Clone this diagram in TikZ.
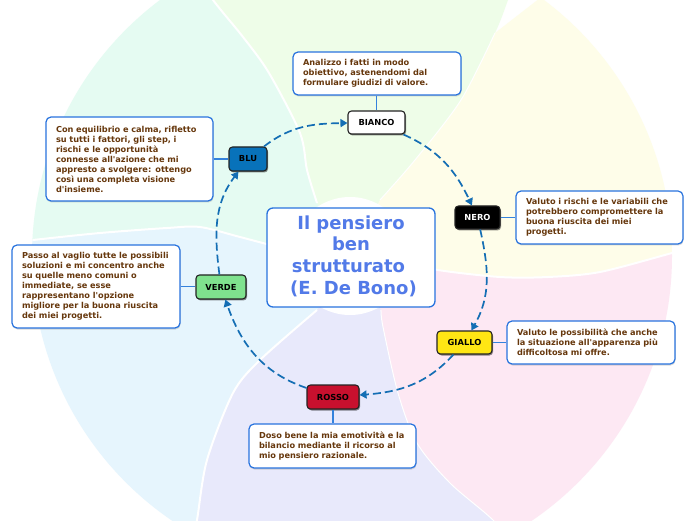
\documentclass[tikz,border=0pt]{standalone}
\usepackage{fontspec}
\newfontfamily\dv{DejaVu Sans}
\usetikzlibrary{arrows.meta,shadows}
\definecolor{mintP}{RGB}{229,251,242}
\definecolor{greenP}{RGB}{238,253,232}
\definecolor{yellowP}{RGB}{254,253,233}
\definecolor{pinkP}{RGB}{253,232,243}
\definecolor{lavP}{RGB}{232,233,251}
\definecolor{lblueP}{RGB}{230,245,253}
\definecolor{descborder}{RGB}{40,115,222}
\definecolor{desctext}{RGB}{102,55,12}
\definecolor{titleblue}{RGB}{82,122,232}
\definecolor{linkblue}{RGB}{52,130,220}
\definecolor{flowblue}{RGB}{20,110,180}
\definecolor{hatborder}{RGB}{35,35,35}
\definecolor{giallo}{RGB}{255,230,20}
\definecolor{rosso}{RGB}{200,16,46}
\definecolor{verde}{RGB}{127,226,142}
\definecolor{blu}{RGB}{8,114,186}
\begin{document}
\begin{tikzpicture}[x=1pt,y=1pt,
  hat/.style={draw=hatborder, line width=1.1pt, rounded corners=3.5pt, minimum height=23pt, inner sep=0pt,
    font=\dv\bfseries\fontsize{8.3}{10}\selectfont,
    drop shadow={shadow xshift=1pt, shadow yshift=-1.5pt, opacity=0.45, fill=black}},
  desc/.style={draw=descborder, line width=1.2pt, fill=white, rounded corners=5pt, inner xsep=10pt, inner ysep=3pt,
    align=left, text=desctext, font=\dv\bfseries\fontsize{8.2}{10}\selectfont,
    drop shadow={shadow xshift=0.5pt, shadow yshift=-1.5pt, opacity=0.3, fill=gray}},
  link/.style={draw=linkblue, line width=1.2pt},
  flow/.style={draw=flowblue, line width=1.7pt, dash pattern=on 8pt off 4pt, -{Triangle[length=7pt,width=8pt]}},
  seam/.style={draw=white, line width=2pt},
  thinseam/.style={draw=white, line width=1pt}
]
\useasboundingbox (0,0) rectangle (696,520);
\fill[white] (0,0) rectangle (696,520);
\coordinate (C) at (352,264);
\coordinate (fG) at (352,714);
\coordinate (fY) at (742,489);
\coordinate (fP) at (742,39);
\coordinate (fL) at (352,-186);
\coordinate (fB) at (-38,39);
\coordinate (fM) at (-38,489);
\begin{scope}
\clip (0,0) rectangle (696,520);
\clip (352,264) circle[radius=320];
% mint (BLU)
\fill[mintP] (C) -- plot[smooth] coordinates {(289,270) (240,283) (200,293) (167,292) (100,287) (33,280) (10,277)}
  -- (fM) -- plot[smooth] coordinates {(185,561) (213,520) (243,483) (269,447) (300,387) (307,350) (317,317)} -- cycle;
% green (BIANCO)
\fill[greenP] (C) -- plot[smooth] coordinates {(317,317) (307,350) (300,387) (269,447) (243,483) (213,520) (185,561)}
  -- (fG) -- plot[smooth] coordinates {(522,560) (508,520) (495,487) (461,420) (415,360) (380,320)} -- cycle;
% yellow (NERO)
\fill[yellowP] (C) -- plot[smooth] coordinates {(380,320) (415,360) (461,420) (495,487)} -- (540,522) -- (570,580)
  -- (fY) -- plot[smooth] coordinates {(700,275) (672,267) (600,248) (548,243) (500,243) (438,250) (412,258)} -- cycle;
% pink (GIALLO)
\fill[pinkP] (C) -- plot[smooth] coordinates {(412,258) (438,250) (500,243) (548,243) (600,248) (672,267) (700,275)}
  -- (fP) -- plot[smooth] coordinates {(525,-36) (493,0) (450,37) (417,77) (398,127) (383,193) (381,210)} -- cycle;
% lavender (ROSSO)
\fill[lavP] (C) -- plot[smooth] coordinates {(381,210) (383,193) (398,127) (417,77) (450,37) (493,0) (525,-36)}
  -- (fL) -- plot[smooth] coordinates {(188,-50) (197,0) (207,60) (233,127) (260,160) (317,210)} -- cycle;
% light blue (VERDE)
\fill[lblueP] (C) -- plot[smooth] coordinates {(317,210) (260,160) (233,127) (207,60) (197,0) (188,-50)}
  -- (fB) -- plot[smooth] coordinates {(10,277) (33,280) (100,287) (167,292) (200,293) (240,283) (289,270)} -- cycle;
% seams
\draw[seam] plot[smooth] coordinates {(317,317) (307,350) (300,387) (269,447) (243,483) (213,520) (185,561)};
\draw[thinseam] plot[smooth] coordinates {(380,320) (415,360) (461,420) (495,487)};
\draw[seam] plot[smooth] coordinates {(412,258) (438,250) (500,243) (548,243) (600,248) (672,267) (700,275)};
\draw[thinseam] plot[smooth] coordinates {(381,210) (383,193) (398,127) (417,77) (450,37) (493,0) (525,-36)};
\draw[seam] plot[smooth] coordinates {(317,210) (260,160) (233,127) (207,60) (197,0) (188,-50)};
\draw[seam] plot[smooth] coordinates {(289,270) (240,283) (200,293) (167,292) (100,287) (33,280) (10,277)};
\end{scope}
\fill[white] (350,264) circle[radius=59];

% central topic
\node[draw=descborder, line width=1.3pt, fill=white, rounded corners=6pt, minimum width=168pt, minimum height=99pt,
  inner sep=0pt, text=titleblue, font=\dv\bfseries\fontsize{18}{21.7}\selectfont] (title) at (351,262.5)
  {\begin{tabular}{@{}c@{}}Il pensiero\\ben\\strutturato\hspace*{5pt}\\\hspace*{5pt}(E. De Bono)\end{tabular}};

% hats
\node[hat, fill=white, minimum width=57pt] (bianco) at (376.5,397.5) {BIANCO};
\node[hat, fill=black, text=white, minimum width=45pt] (nero) at (477.5,302.5) {NERO};
\node[hat, fill=giallo, minimum width=55pt] (gialloN) at (464.5,177.5) {GIALLO};
\node[hat, fill=rosso, minimum width=52pt, minimum height=24pt] (rossoN) at (333,123) {ROSSO};
\node[hat, fill=verde, minimum width=50pt, minimum height=24pt] (verdeN) at (221,233) {VERDE};
\node[hat, fill=blu, minimum width=38pt, minimum height=24pt] (bluN) at (248,361) {BLU};

% descriptions
\node[desc, text width=148pt, minimum height=43pt] (dbianco) at (377,446.5)
  {\mbox{Analizzo i fatti in modo}\\\mbox{obiettivo, astenendomi dal}\\\mbox{formulare giudizi di valore.}};
\node[desc, text width=147pt, minimum height=53pt] (dnero) at (599.5,302.5)
  {\mbox{Valuto i rischi e le variabili che}\\\mbox{potrebbero compromettere la}\\\mbox{buona riuscita dei miei}\\\mbox{progetti.}};
\node[desc, text width=148pt, minimum height=43pt] (dgiallo) at (591,177.5)
  {\mbox{Valuto le possibilità che anche}\\\mbox{la situazione all'apparenza più}\\\mbox{difficoltosa mi offre.}};
\node[desc, text width=147pt, minimum height=44pt] (drosso) at (332.5,74)
  {\mbox{Doso bene la mia emotività e la}\\\mbox{bilancio mediante il ricorso al}\\\mbox{mio pensiero razionale.}};
\node[desc, text width=148pt, minimum height=83pt] (dverde) at (96,233.5)
  {\mbox{Passo al vaglio tutte le possibili}\\\mbox{soluzioni e mi concentro anche}\\\mbox{su quelle meno comuni o}\\\mbox{immediate, se esse}\\\mbox{rappresentano l'opzione}\\\mbox{migliore per la buona riuscita}\\\mbox{dei miei progetti.}};
\node[desc, text width=147pt, minimum height=84pt] (dblu) at (129.5,361)
  {\mbox{Con equilibrio e calma, rifletto}\\\mbox{su tutti i fattori, gli step, i}\\\mbox{rischi e le opportunità}\\\mbox{connesse all'azione che mi}\\\mbox{appresto a svolgere: ottengo}\\\mbox{così una completa visione}\\\mbox{d'insieme.}};

% links hat -> description
\draw[link] (bianco.north) -- (bianco.north |- dbianco.south);
\draw[link] (nero.east) -- (nero.east -| dnero.west);
\draw[link] (gialloN.east) -- (gialloN.east -| dgiallo.west);
\draw[link] (rossoN.south) -- (rossoN.south |- drosso.north);
\draw[link] (dverde.east) -- (dverde.east -| verdeN.west);
\draw[link] (dblu.east) -- (dblu.east -| bluN.west);

% flow
\draw[flow] (bluN) to[out=38,in=181] (bianco);
\draw[flow] (bianco) to[out=-24,in=115] (nero);
\draw[flow] (nero) to[out=-77.5,in=60.4] (gialloN);
\draw[flow] (gialloN) to[out=-132.7,in=4.5] (rossoN);
\draw[flow] (rossoN) to[out=161.3,in=-70.9] (verdeN);
\draw[flow] (verdeN) to[out=97.3,in=-127.3] (bluN);
\end{tikzpicture}
\end{document}
